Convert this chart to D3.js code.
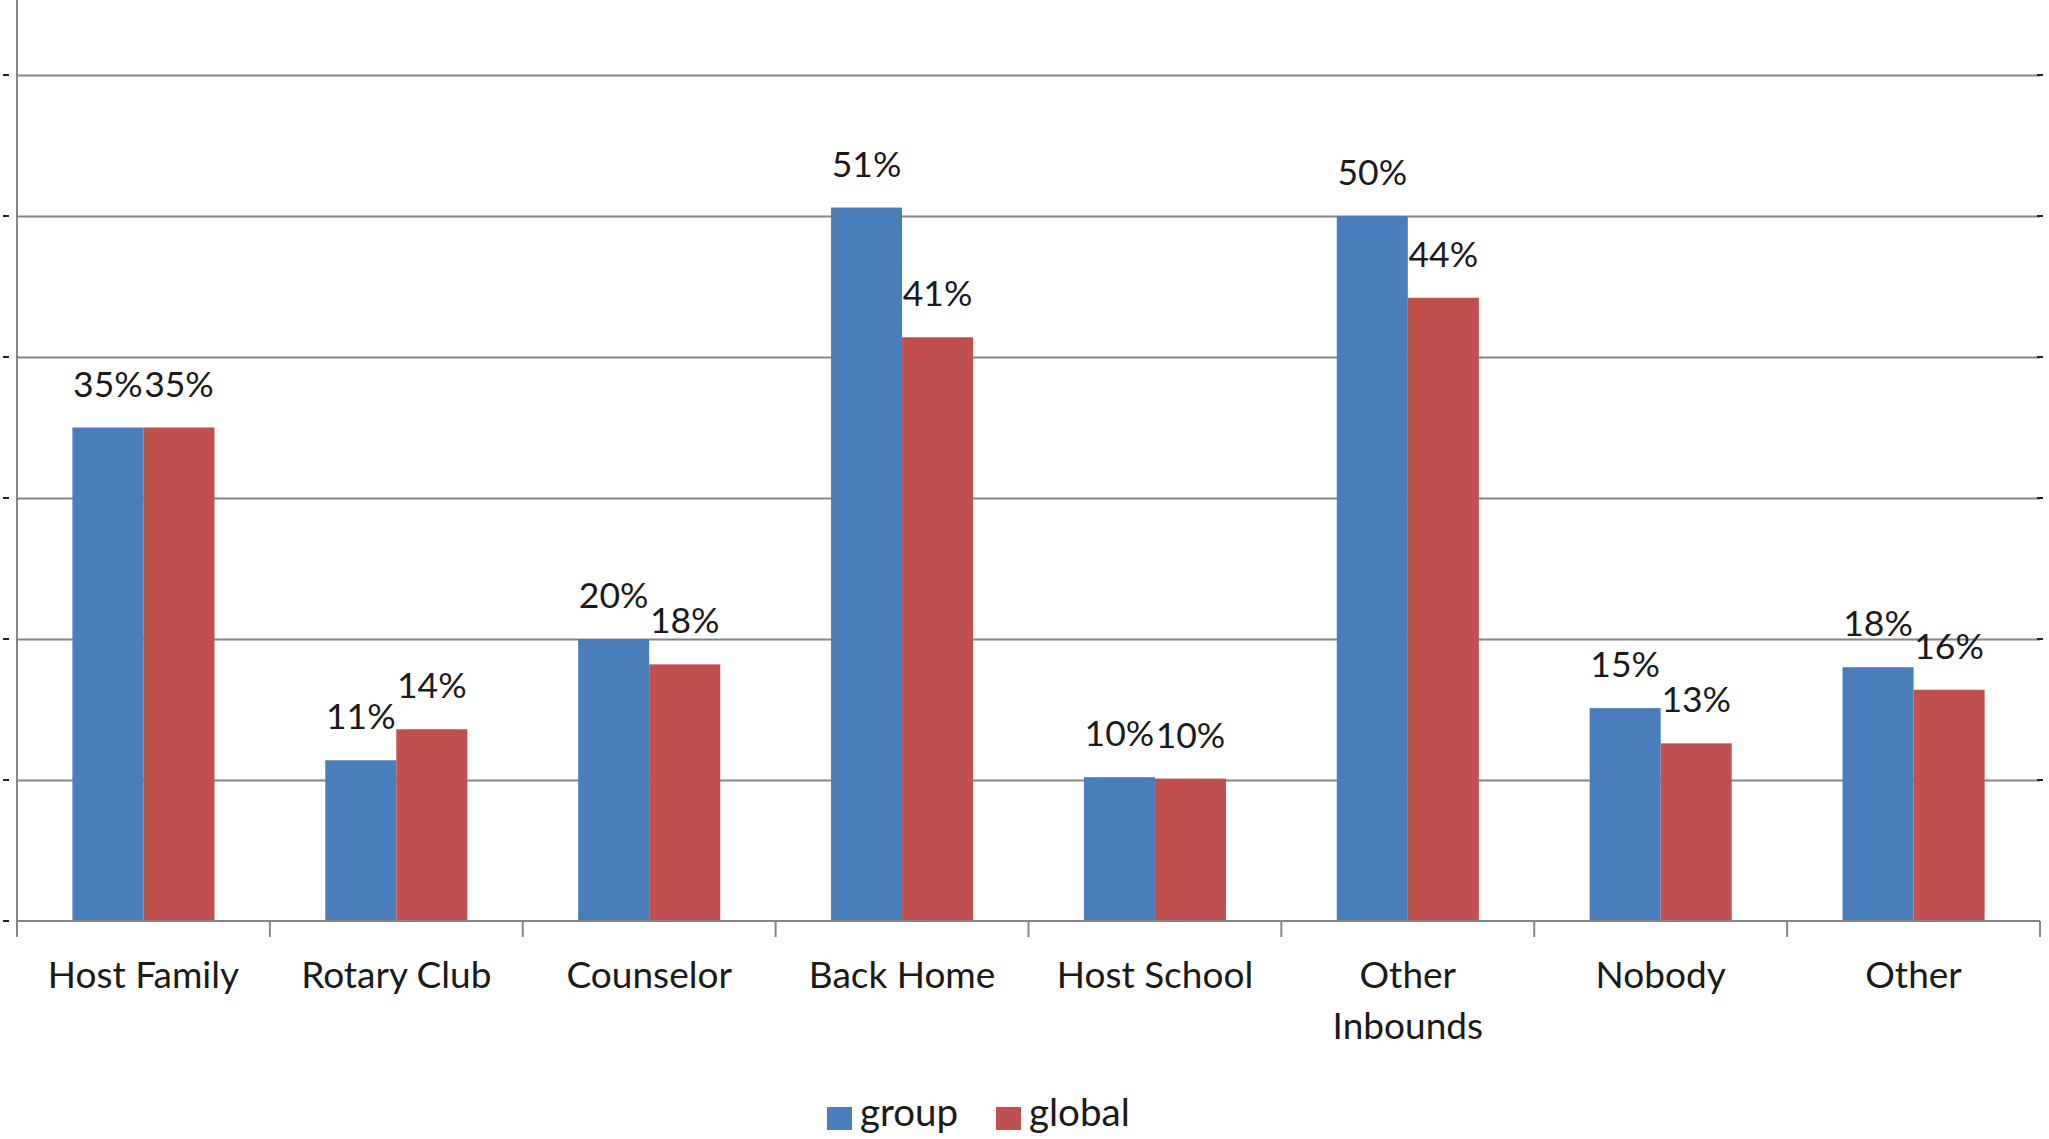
<!DOCTYPE html>
<html>
<head>
<meta charset="utf-8">
<script src="https://cdn.jsdelivr.net/npm/d3@7"></script>
<style>
  html, body { margin: 0; padding: 0; background: #fff; }
  svg { display: block; }
  text { font-family: Lato, "Open Sans", sans-serif; fill: #1a1a1a; }
</style>
</head>
<body>
<svg id="chart" width="2049" height="1139"></svg>
<script>
const categories = ["Host Family", "Rotary Club", "Counselor", "Back Home", "Host School", "Other Inbounds", "Nobody", "Other"];
const seriesNames = ["group", "global"];
const groupValues = [0.350, 0.114, 0.200, 0.506, 0.102, 0.500, 0.151, 0.180];
const globalValues = [0.350, 0.136, 0.182, 0.414, 0.101, 0.442, 0.126, 0.164];
const yTicks = [0, 0.1, 0.2, 0.3, 0.4, 0.5, 0.6];
const colors = ["#4a7ebb", "#c0504d"];

const svg = d3.select("#chart");
const left = 17, right = 2040, baseY = 921, topGrid = 75;

const x0 = d3.scaleBand().domain(categories).range([left, right]).paddingInner(0).paddingOuter(0);
const x1 = d3.scaleBand().domain(seriesNames).range([0, x0.bandwidth()]).paddingInner(0).paddingOuter(0.78);
const y = d3.scaleLinear().domain([0, 0.6]).range([baseY, topGrid]);
const color = d3.scaleOrdinal().domain(seriesNames).range(colors);

// gridlines
const grid = svg.append("g").attr("transform", `translate(${left},0)`)
  .call(d3.axisLeft(y).tickValues(yTicks.slice(1)).tickSize(-(right - left)).tickFormat(""));
grid.select(".domain").remove();
grid.selectAll(".tick line").attr("stroke", "#868686").attr("stroke-width", 2.2);

// small left tick marks
svg.append("g").selectAll("line").data(yTicks).join("line")
  .attr("x1", 3).attr("x2", 9).attr("y1", d => y(d)).attr("y2", d => y(d))
  .attr("stroke", "#222").attr("stroke-width", 2);
// small right tick marks
svg.append("g").selectAll("line").data(yTicks.slice(1)).join("line")
  .attr("x1", right - 3).attr("x2", right + 3).attr("y1", d => y(d)).attr("y2", d => y(d))
  .attr("stroke", "#222").attr("stroke-width", 2);

// y axis line
svg.append("line").attr("x1", left).attr("x2", left).attr("y1", 0).attr("y2", baseY + 16)
  .attr("stroke", "#868686").attr("stroke-width", 2);

// bars
const data = categories.map((c, i) => ({ cat: c, vals: [groupValues[i], globalValues[i]] }));
const groups = svg.append("g").selectAll("g").data(data).join("g")
  .attr("transform", d => `translate(${x0(d.cat)},0)`);
groups.selectAll("rect").data(d => d.vals.map((v, j) => ({ key: seriesNames[j], v })))
  .join("rect")
  .attr("x", d => x1(d.key))
  .attr("width", x1.bandwidth())
  .attr("y", d => y(d.v))
  .attr("height", d => baseY - y(d.v))
  .attr("fill", d => color(d.key));

// value labels
groups.selectAll("text").data(d => d.vals.map((v, j) => ({ key: seriesNames[j], v })))
  .join("text")
  .attr("x", d => x1(d.key) + x1.bandwidth() / 2)
  .attr("y", d => y(d.v) - 31)
  .attr("text-anchor", "middle")
  .attr("font-size", 35.5)
  .text(d => Math.round(d.v * 100) + "%");

// x axis baseline
svg.append("line").attr("x1", left).attr("x2", right).attr("y1", baseY).attr("y2", baseY)
  .attr("stroke", "#868686").attr("stroke-width", 2);
// category boundary ticks
const bounds = categories.map(c => x0(c)).concat([right]);
svg.append("g").selectAll("line").data(bounds.slice(1)).join("line")
  .attr("x1", d => d).attr("x2", d => d).attr("y1", baseY).attr("y2", baseY + 16)
  .attr("stroke", "#868686").attr("stroke-width", 2);

// category labels
const catLines = { "Other Inbounds": ["Other", "Inbounds"] };
const catLabels = svg.append("g").selectAll("text").data(categories).join("text")
  .attr("x", d => x0(d) + x0.bandwidth() / 2)
  .attr("y", 988)
  .attr("text-anchor", "middle")
  .attr("font-size", 37);
catLabels.each(function (d) {
  const lines = catLines[d] || [d];
  const t = d3.select(this);
  lines.forEach((ln, i) => {
    t.append("tspan").attr("x", x0(d) + x0.bandwidth() / 2).attr("dy", i === 0 ? 0 : 51).text(ln);
  });
});

// legend
const legendItems = [{ key: "group", x: 827 }, { key: "global", x: 996 }];
const leg = svg.append("g").selectAll("g").data(legendItems).join("g")
  .attr("transform", d => `translate(${d.x},1107)`);
leg.append("rect").attr("width", 25).attr("height", 23).attr("fill", d => color(d.key));
leg.append("text").attr("x", 33).attr("y", 19).attr("font-size", 38.5).text(d => d.key);
</script>
</body>
</html>
